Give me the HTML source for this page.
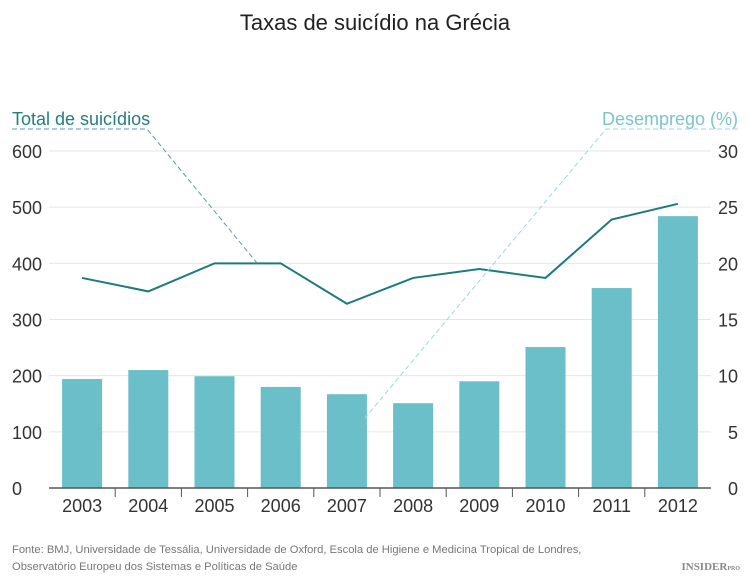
<!DOCTYPE html>
<html><head><meta charset="utf-8"><style>
body{margin:0;background:#fff;}
svg{display:block;font-family:"Liberation Sans",sans-serif;}
</style></head><body>
<svg width="750" height="582" viewBox="0 0 750 582">
<text x="375" y="30" text-anchor="middle" font-size="22" fill="#222">Taxas de suicídio na Grécia</text>
<g id="grid"></g><g id="bars"></g><g id="axes"></g><g id="line"></g>
<text x="12" y="125" font-size="18" fill="#237e80">Total de suicídios</text>
<text x="738" y="125" text-anchor="end" font-size="18" fill="#7cc4cb">Desemprego (%)</text>
<polyline points="12,129 147,129 257,263" fill="none" stroke="#5a9ea0" stroke-width="1" stroke-dasharray="5,3"/>
<polyline points="738,129 606,129 365,418" fill="none" stroke="#9fd6db" stroke-width="1" stroke-dasharray="5,3"/>
<text x="12" y="553" font-size="11.2" fill="#777">Fonte: BMJ, Universidade de Tessália, Universidade de Oxford, Escola de Higiene e Medicina Tropical de Londres,</text>
<text x="12" y="570" font-size="11.2" fill="#777">Observatório Europeu dos Sistemas e Políticas de Saúde</text>
<text x="740" y="570" text-anchor="end" font-size="11" font-family="Liberation Serif,serif" font-weight="bold" fill="#888">INSIDER<tspan font-size="6">PRO</tspan></text>
</svg>
<script>
const categories=["2003","2004","2005","2006","2007","2008","2009","2010","2011","2012"];
const suicides=[194,210,199,180,167,151,190,251,356,484];
const unemployment=[18.7,17.5,20.0,20.0,16.4,18.7,19.5,18.7,23.9,25.3];
const leftTicks=[0,100,200,300,400,500,600];
const rightTicks=[0,5,10,15,20,25,30];
const NS="http://www.w3.org/2000/svg";
const x0=49,x1=711,yb=488,yt=151;
const band=(x1-x0)/categories.length;
const xc=i=>x0+band*(i+0.5);
const yL=v=>yb-(yb-yt)*v/600;
const yR=v=>yb-(yb-yt)*v/30;
function mk(tag,attrs,parent,text){const e=document.createElementNS(NS,tag);for(const k in attrs)e.setAttribute(k,attrs[k]);if(text!==undefined)e.textContent=text;document.getElementById(parent).appendChild(e);return e;}
leftTicks.forEach((t,i)=>{
 if(t>0){const g=mk('line',{x1:x0,x2:x1,y1:yL(t),y2:yL(t),stroke:'#e6e6e6','stroke-width':1},'grid');
 
 }
 const l=mk('text',{x:12,y:yL(t)+7,'font-size':18,fill:'#333'},'axes',String(t));
 
 
});
rightTicks.forEach(t=>{
 const l=mk('text',{x:738,y:yR(t)+7,'font-size':18,fill:'#333','text-anchor':'end'},'axes',String(t));
 
 
});
categories.forEach((c,i)=>{
 const b=mk('rect',{x:xc(i)-20,y:yL(suicides[i]),width:40,height:yb-yL(suicides[i]),fill:'#6bbfc8'},'bars');
 
 
 const l=mk('text',{x:xc(i),y:512,'font-size':18,fill:'#333','text-anchor':'middle'},'axes',c);
 
 
 if(i>0){const tk=mk('line',{x1:x0+band*i,x2:x0+band*i,y1:yb,y2:yb+9,stroke:'#555','stroke-width':1},'axes');
 
 }
});
const ax=mk('line',{x1:x0,x2:x1,y1:yb,y2:yb,stroke:'#555','stroke-width':1.5},'axes');


const pl=mk('polyline',{points:unemployment.map((v,i)=>xc(i)+','+yR(v)).join(' '),fill:'none',stroke:'#1e7a7b','stroke-width':2},'line');


</script>
</body></html>
